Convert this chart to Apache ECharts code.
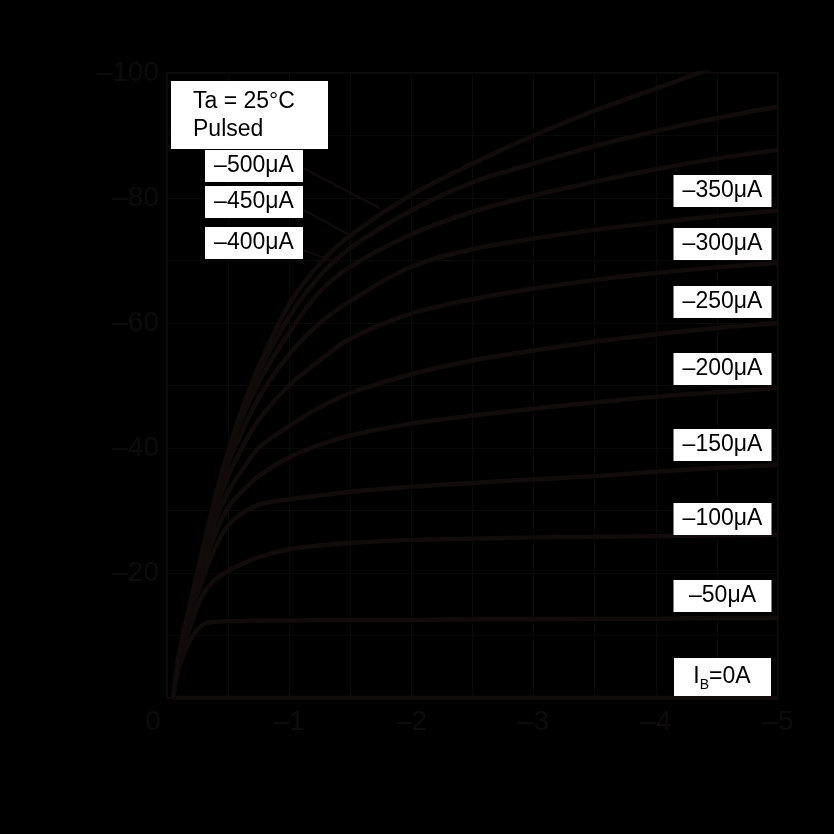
<!DOCTYPE html>
<html>
<head>
<meta charset="utf-8">
<style>
  html, body { margin: 0; padding: 0; background: #000; }
  #chart { width: 834px; height: 834px; }
</style>
<script src="https://cdn.jsdelivr.net/npm/echarts@6/dist/echarts.min.js"></script>
</head>
<body>
<div id="chart"></div>
<script>
// Collector-emitter voltage sample points (V)
const vce = [-0.05, -0.1, -0.2, -0.3, -0.4, -0.5, -0.6, -0.75, -1, -1.25, -1.5, -2, -2.5, -3, -3.5, -4, -4.5, -5];

// Collector current (mA) for each base current step
const ib0   = [0, 0, 0, 0, 0, 0, 0, 0, 0, 0, 0, 0, 0, 0, 0, 0, 0, 0];
const ib50  = [0, -5, -9.6, -11.8, -12.2, -12.3, -12.3, -12.4, -12.4, -12.5, -12.5, -12.5, -12.6, -12.6, -12.7, -12.7, -12.8, -12.8];
const ib100 = [0, -5.5, -12, -16.8, -19, -20.3, -21.3, -22.5, -23.8, -24.4, -24.8, -25.3, -25.5, -25.7, -25.8, -25.9, -26, -26.1];
const ib150 = [0, -6, -13.5, -19.5, -24.3, -27.6, -29.4, -30.9, -31.8, -32.4, -33, -33.8, -34.4, -35, -35.5, -36.2, -36.8, -37.3];
const ib200 = [0, -6.2, -14, -21, -26.5, -30.5, -32.8, -35.5, -38.5, -40.5, -42, -43.9, -45.2, -46.3, -47.3, -48.2, -48.9, -49.6];
const ib250 = [0, -6.5, -14.5, -22, -28.5, -33, -36, -40, -43.5, -46.5, -48.8, -51.8, -54, -55.6, -57, -58.2, -59.2, -60];
const ib300 = [0, -6.7, -15, -22.8, -30, -35.5, -39.5, -44.5, -50, -54, -57.5, -61.5, -63.8, -65.5, -66.9, -68, -68.9, -69.6];
const ib350 = [0, -6.8, -15.3, -23.5, -31, -37.5, -42, -48, -55, -60, -63.5, -69, -71.8, -73.5, -74.9, -76.1, -77.1, -78];
const ib400 = [0, -7, -15.6, -24, -32, -38.5, -44, -50.5, -58.5, -65, -69, -74.2, -77.8, -80.4, -82.6, -84.6, -86.3, -87.7];
const ib450 = [0, -7.1, -15.8, -24.3, -32.3, -39, -44.8, -52, -61, -67.5, -72, -78, -82.5, -85.5, -88.3, -90.7, -92.8, -94.6];
const ib500 = [0, -7.2, -16, -24.5, -32.5, -39.5, -45.5, -53, -63, -69.5, -74, -80.5, -85.5, -90, -94, -97.5, -101, -104];

const curves = [ib0, ib50, ib100, ib150, ib200, ib250, ib300, ib350, ib400, ib450, ib500];

// Curve labels
const rightLabels = ['–350μA', '–300μA', '–250μA', '–200μA', '–150μA', '–100μA', '–50μA'];
const leftLabels = ['–500μA', '–450μA', '–400μA'];

// Leader lines from the left labels to their curves: [start, end] in (V, mA)
const leader500 = [[-1.113, -84.8], [-1.74, -78.4]];
const leader450 = [[-1.113, -78.1], [-1.52, -73.8]];
const leader400 = [[-1.113, -71.7], [-1.39, -69.6]];

const CURVE = '#120b0b';
const DARK = '#0e0b0b';
const GRIDC = '#0a0808';
const FONT = '"Liberation Sans", Arial, sans-serif';

const chart = echarts.init(document.getElementById('chart'), null, { renderer: 'canvas' });

const series = curves.map(function (ic) {
  return {
    type: 'line',
    data: vce.map(function (v, i) { return [v, ic[i]]; }),
    showSymbol: false,
    smooth: 0.35,
    clip: true,
    lineStyle: { color: CURVE, width: 4.5 },
    silent: true,
    z: 3
  };
});

[leader500, leader450, leader400].forEach(function (seg) {
  series.push({
    type: 'line',
    data: seg,
    showSymbol: false,
    clip: false,
    lineStyle: { color: CURVE, width: 2 },
    silent: true,
    z: 4
  });
});

function boxText(text, cx, cy) {
  return {
    type: 'text',
    x: cx, y: cy, z: 10,
    style: {
      text: text,
      font: '23px ' + FONT,
      fill: '#000',
      align: 'center',
      verticalAlign: 'middle',
      backgroundColor: '#fff',
      width: 90,
      padding: [4, 4],
      lineHeight: 24
    }
  };
}

const rightY = [191, 244, 302, 369, 445, 519, 596];
const leftY = [166, 202, 243];

const graphics = [];
rightLabels.forEach(function (t, i) { graphics.push(boxText(t, 722.5, rightY[i])); });
leftLabels.forEach(function (t, i) { graphics.push(boxText(t, 254, leftY[i])); });

// Conditions box
graphics.push({ type: 'rect', shape: { x: 171, y: 81, width: 157, height: 68 }, style: { fill: '#fff' }, z: 10 });
graphics.push({
  type: 'text', x: 193, y: 88, z: 11,
  style: { text: 'Ta = 25°C\nPulsed', font: '23px ' + FONT, fill: '#000', lineHeight: 28 }
});

// IB = 0A box with subscript
graphics.push({ type: 'rect', shape: { x: 674, y: 658, width: 97, height: 38 }, style: { fill: '#fff' }, z: 10 });
graphics.push({
  type: 'text', x: 722, y: 662, z: 11,
  style: {
    text: '{m|I}{s|B}{m|=0A}',
    align: 'center',
    verticalAlign: 'top',
    rich: {
      m: { fontFamily: FONT, fontSize: 23, lineHeight: 30, fill: '#000', color: '#000' },
      s: { fontFamily: FONT, fontSize: 14, lineHeight: 18, verticalAlign: 'bottom', fill: '#000', color: '#000' }
    }
  }
});

const option = {
  backgroundColor: '#000',
  animation: false,
  grid: {
    left: 167, right: 56, top: 73, bottom: 136,
    show: true, borderColor: DARK, borderWidth: 2, backgroundColor: 'transparent'
  },
  xAxis: {
    type: 'value',
    min: -5, max: 0, interval: 0.5,
    inverse: true,
    axisLine: { show: true, lineStyle: { color: DARK, width: 2 } },
    axisTick: { show: false },
    splitLine: { show: true, lineStyle: { color: GRIDC, width: 1 } },
    axisLabel: {
      margin: 10,
      color: DARK,
      fontFamily: FONT,
      fontSize: 28,
      formatter: function (v) {
        if (Math.abs(v - Math.round(v)) > 1e-6) return '';
        if (v === 0) return '{z|0}';
        return '–' + Math.abs(v);
      },
      rich: { z: { fontFamily: FONT, fontSize: 28, color: DARK, padding: [0, 28, 0, 0] } }
    }
  },
  yAxis: {
    type: 'value',
    min: -100, max: 0, interval: 10,
    inverse: true,
    axisLine: { show: true, lineStyle: { color: DARK, width: 2 } },
    axisTick: { show: false },
    splitLine: { show: true, lineStyle: { color: GRIDC, width: 1 } },
    axisLabel: {
      margin: 8,
      color: DARK,
      fontFamily: FONT,
      fontSize: 28,
      formatter: function (v) {
        if (v === 0 || Math.round(v) % 20 !== 0) return '';
        return '–' + Math.abs(v);
      }
    }
  },
  series: series,
  graphic: graphics
};

chart.setOption(option);
</script>
</body>
</html>
